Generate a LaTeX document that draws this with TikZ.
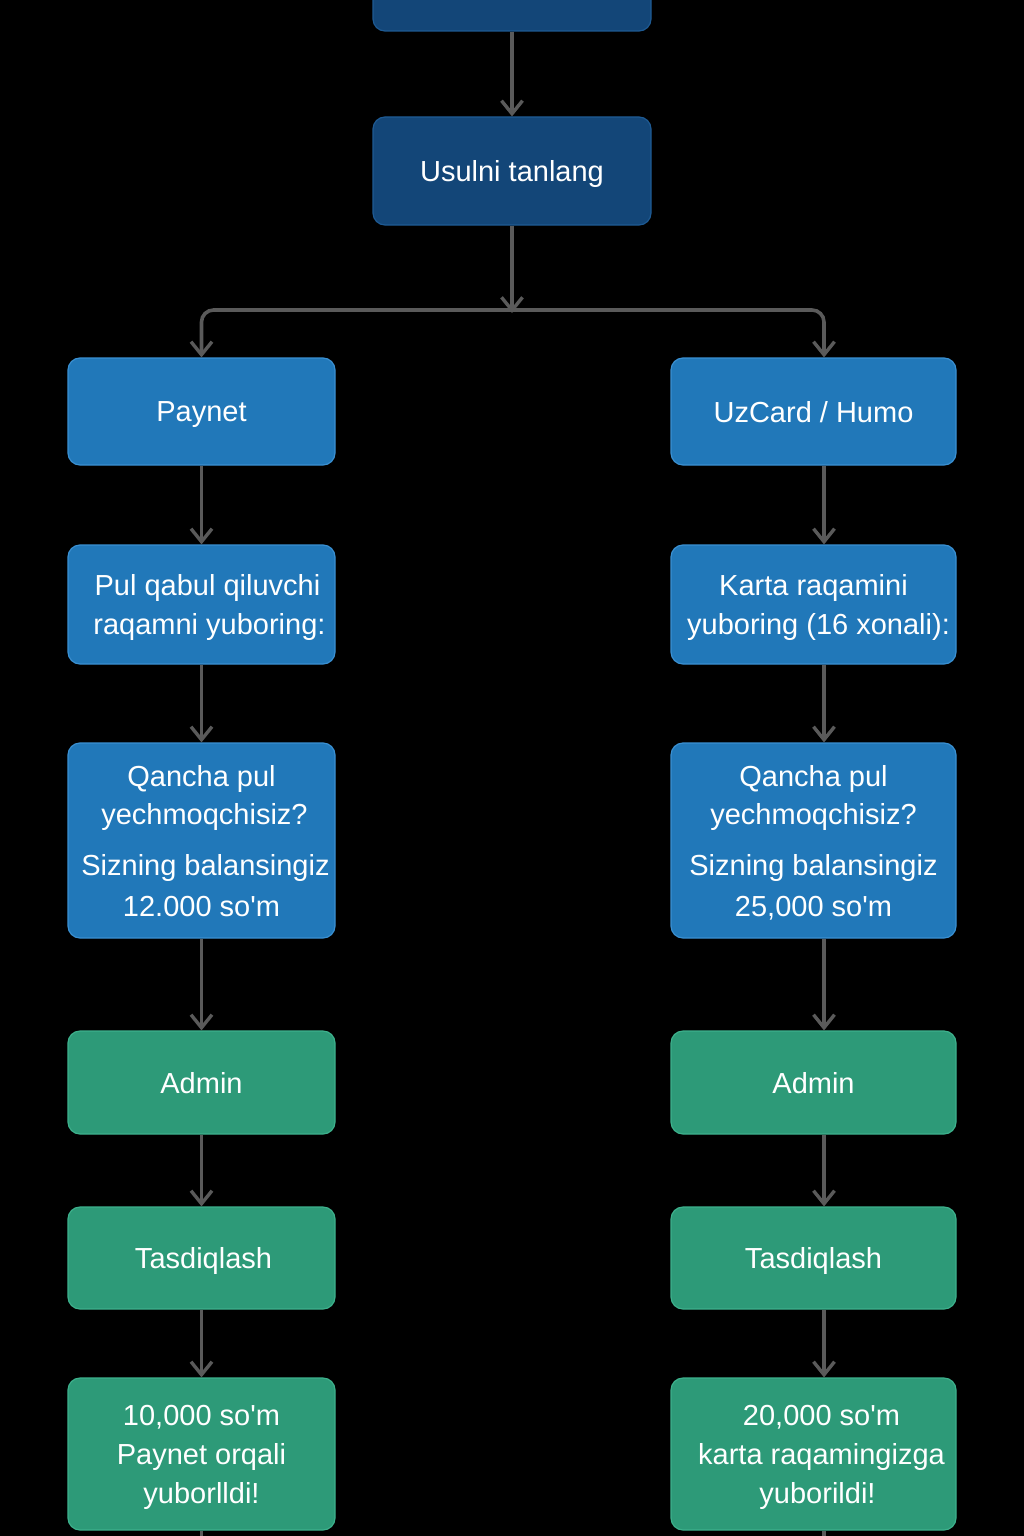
\documentclass[tikz,border=0pt]{standalone}
\usepackage{fontspec}
\setmainfont{Liberation Sans}[Ligatures=TeXOff]
\usetikzlibrary{arrows.meta}
\definecolor{darkb}{HTML}{134678}
\definecolor{darkbb}{HTML}{1E5A93}
\definecolor{midb}{HTML}{2178B9}
\definecolor{midbb}{HTML}{3A90D2}
\definecolor{grn}{HTML}{2D9A78}
\definecolor{grnb}{HTML}{3DB18C}
\definecolor{arrg}{HTML}{5A5A5A}
\tikzset{
  box/.style={rounded corners=12pt, line width=1.2pt, inner sep=0pt, align=center,
    text=white, text depth=0pt, font=\fontsize{29}{39}\selectfont},
  dbox/.style={box, fill=darkb, draw=darkbb},
  bbox/.style={box, fill=midb, draw=midbb},
  gbox/.style={box, fill=grn, draw=grnb},
  conn/.style={draw=arrg, line width=3.6pt, -{Straight Barb[length=13pt,width=21pt,line width=3.4pt]}},
  plain/.style={draw=arrg, line width=3.6pt},
}
\begin{document}
\begin{tikzpicture}[x=1pt,y=-1pt]
\fill[black] (0,0) rectangle (1024,1536);
\useasboundingbox (0,0) rectangle (1024,1536);
\begin{scope}
\clip (0,0) rectangle (1024,1536);
% top (cut off) box
\node[dbox, minimum width=278pt, minimum height=102pt] (top) at (512,-20) {};
\end{scope}
\node[dbox, minimum width=278pt, minimum height=108pt] (usul) at (512,171) {Usulni tanlang};
\coordinate (j) at (512,310);
% left column
\node[bbox, minimum width=267pt, minimum height=107pt] (pay) at (201.5,411.5) {Paynet};
\node[bbox, minimum width=267pt, minimum height=119pt] (pul) at (201.5,604.5) {\hspace*{12pt}Pul qabul qiluvchi\\\hspace*{16pt}raqamni yuboring:};
\node[bbox, minimum width=267pt, minimum height=195pt] (qL) at (201.5,840.5) {Qancha pul\\[-1pt]\hspace*{6pt}yechmoqchisiz?\\[12pt]\hspace*{8pt}Sizning balansingiz\\[2pt]12.000 so'm};
\node[gbox, minimum width=267pt, minimum height=103pt] (adL) at (201.5,1082.5) {Admin};
\node[gbox, minimum width=267pt, minimum height=102pt] (tsL) at (201.5,1258) {\hspace*{4pt}Tasdiqlash};
\node[gbox, minimum width=267pt, minimum height=152pt] (fL) at (201.5,1454) {10,000 so'm\\Paynet orqali\\yuborlldi!};
% right column
\node[bbox, minimum width=285pt, minimum height=107pt] (uz) at (813.5,411.5) {UzCard / Humo};
\node[bbox, minimum width=285pt, minimum height=119pt] (kar) at (813.5,604.5) {Karta raqamini\\\hspace*{10pt}yuboring (16 xonali):};
\node[bbox, minimum width=285pt, minimum height=195pt] (qR) at (813.5,840.5) {Qancha pul\\[-1pt]yechmoqchisiz?\\[12pt]Sizning balansingiz\\[2pt]25,000 so'm};
\node[gbox, minimum width=285pt, minimum height=103pt] (adR) at (813.5,1082.5) {Admin};
\node[gbox, minimum width=285pt, minimum height=102pt] (tsR) at (813.5,1258) {Tasdiqlash};
\node[gbox, minimum width=285pt, minimum height=152pt] (fR) at (813.5,1454) {\hspace*{16pt}20,000 so'm\\\hspace*{16pt}karta raqamingizga\\\hspace*{8pt}yuborildi!};
\coordinate (eL) at (201.5,1540);
\coordinate (eR) at (824,1540);
% connectors
\draw[conn] (top.south) -- (usul.north);
\draw[conn] (usul.south) -- ([yshift=-3pt]j);
\draw[conn, rounded corners=12pt] (j) -| (pay.north);
\draw[conn, rounded corners=12pt] (j) -| ([xshift=10.5pt]uz.north);
\draw[conn] (pay.south) -- (pul.north);
\draw[conn] (pul.south) -- (qL.north);
\draw[conn] (qL.south) -- (adL.north);
\draw[conn] (adL.south) -- (tsL.north);
\draw[conn] (tsL.south) -- (fL.north);
\draw[plain] (fL.south) -- (eL);
\draw[conn] ([xshift=10.5pt]uz.south) -- ([xshift=10.5pt]kar.north);
\draw[conn] ([xshift=10.5pt]kar.south) -- ([xshift=10.5pt]qR.north);
\draw[conn] ([xshift=10.5pt]qR.south) -- ([xshift=10.5pt]adR.north);
\draw[conn] ([xshift=10.5pt]adR.south) -- ([xshift=10.5pt]tsR.north);
\draw[conn] ([xshift=10.5pt]tsR.south) -- ([xshift=10.5pt]fR.north);
\draw[plain] ([xshift=10.5pt]fR.south) -- (eR);
\end{tikzpicture}
\end{document}
